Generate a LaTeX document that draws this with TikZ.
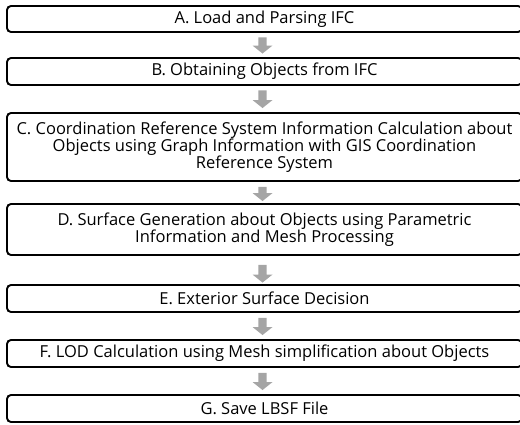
\documentclass[tikz,border=0pt]{standalone}
\usepackage{fontspec}
\setmainfont{Open Sans}
\usetikzlibrary{calc}
\definecolor{arrowgray}{RGB}{165,165,165}

% Block arrow from the bottom of node #1 to the top of node #2;
% #3 = gap below #1, #4 = gap above #2 (picture units, y grows downwards)
\newcommand\flowstep[4]{%
  \fill[flowarrow]
    ($(#1.south)+(-6.2,#3)$) -- ($(#1.south)+(2.2,#3)$) --
    ($(#2.north)+(2.2,-#4-8)$) -- ($(#2.north)+(8,-#4-8)$) --
    ($(#2.north)+(-2,-#4)$) --
    ($(#2.north)+(-12,-#4-8)$) -- ($(#2.north)+(-6.2,-#4-8)$) -- cycle;}

\begin{document}
\begin{tikzpicture}[x=1pt,y=-1pt,
  stepbox/.style={draw=black, line width=1.9pt, rounded corners=4pt,
    fill=white, minimum width=515pt, inner sep=0pt, align=center,
    font=\fontsize{16.5}{17}\selectfont},
  flowarrow/.style={fill=arrowgray}]
  \useasboundingbox (0,0) rectangle (520,425);

  \node[stepbox, minimum height=26pt] (a) at (264.5,19)
    {A. Load and Parsing IFC};
  \node[stepbox, minimum height=27pt] (b) at (264.5,71.5)
    {B. Obtaining Objects from IFC};
  \node[stepbox, minimum height=68pt] (c) at (264.5,147)
    {C. Coordination Reference System Information Calculation about\\
     Objects using Graph Information with GIS Coordination\\
     Reference System};
  \node[stepbox, minimum height=51pt] (d) at (264.5,229.5)
    {D. Surface Generation about Objects using Parametric\\
     Information and Mesh Processing};
  \node[stepbox, minimum height=27pt] (e) at (264.5,298.5)
    {E. Exterior Surface Decision};
  \node[stepbox, minimum height=27pt] (f) at (264.5,353.5)
    {F. LOD Calculation using Mesh simplification about Objects};
  \node[stepbox, minimum height=27pt] (g) at (264.5,408.5)
    {G. Save LBSF File};

  \flowstep{a}{b}{4.5}{3.5}
  \flowstep{b}{c}{4.5}{4}
  \flowstep{c}{d}{5}{2}
  \flowstep{d}{e}{9}{1.5}
  \flowstep{e}{f}{5}{4}
  \flowstep{f}{g}{5}{4}
\end{tikzpicture}
\end{document}
